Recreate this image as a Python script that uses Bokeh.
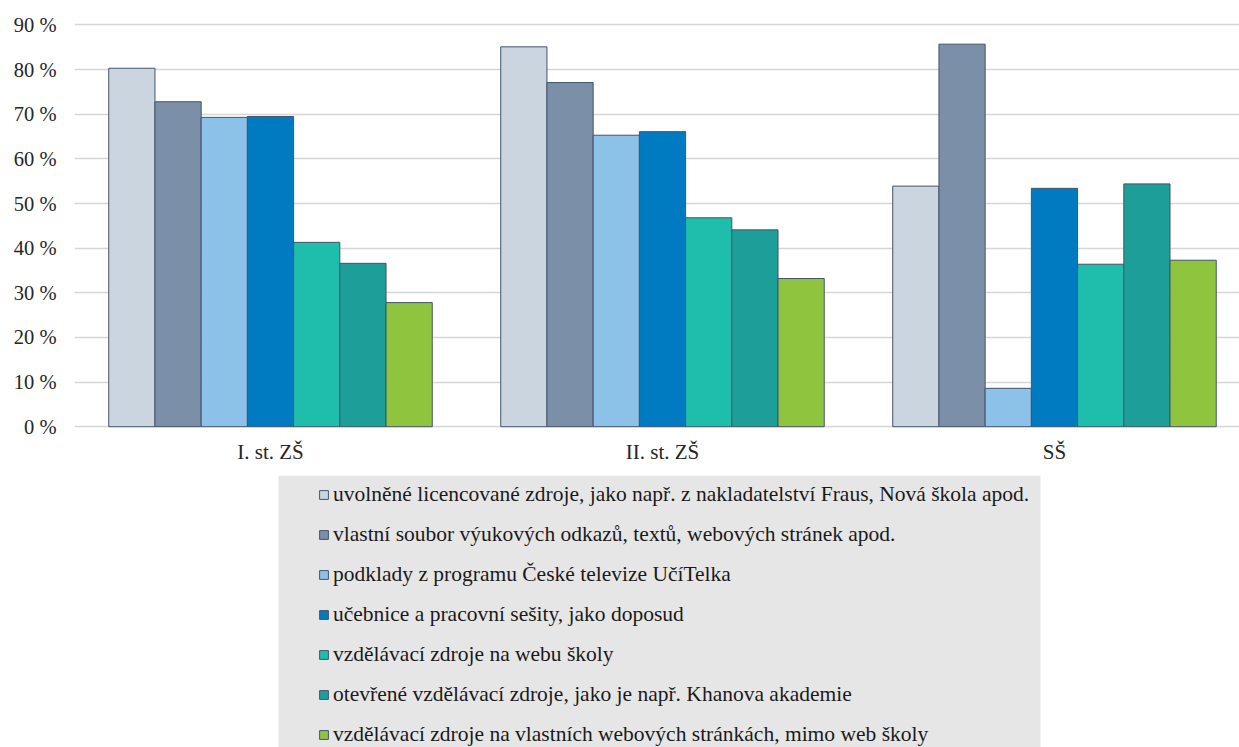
from bokeh.plotting import figure
from bokeh.layouts import column
from bokeh.models import (Range1d, FixedTicker, Legend, LegendItem, ColumnDataSource,
                          BoxAnnotation)
from bokeh.transform import dodge
from bokeh.embed import file_html
from bokeh.resources import INLINE

# ---------------- data ----------------
categories = ["I. st. ZŠ", "II. st. ZŠ", "SŠ"]

series_names = [
    "uvolněné licencované zdroje, jako např. z nakladatelství Fraus, Nová škola apod.",
    "vlastní soubor výukových odkazů, textů, webových stránek apod.",
    "podklady z programu České televize UčíTelka",
    "učebnice a pracovní sešity, jako doposud",
    "vzdělávací zdroje na webu školy",
    "otevřené vzdělávací zdroje, jako je např. Khanova akademie",
    "vzdělávací zdroje na vlastních webových stránkách, mimo web školy",
]

uvolnene_licencovane = [80.3, 85.1, 53.9]
vlastni_soubor = [72.8, 77.1, 85.7]
ucitelka = [69.3, 65.3, 8.6]
ucebnice = [69.5, 66.1, 53.4]
web_skoly = [41.3, 46.8, 36.4]
otevrene_zdroje = [36.6, 44.1, 54.4]
vlastni_weby = [27.8, 33.2, 37.3]

series_values = [uvolnene_licencovane, vlastni_soubor, ucitelka, ucebnice,
                 web_skoly, otevrene_zdroje, vlastni_weby]

y_ticks = [0, 10, 20, 30, 40, 50, 60, 70, 80, 90]
y_tick_labels = ["0 %", "10 %", "20 %", "30 %", "40 %", "50 %", "60 %", "70 %", "80 %", "90 %"]

colors = ["#cbd5df", "#7b8fa8", "#8dc2e8", "#007bc2", "#1fbdab", "#1e9e98", "#8fc43f"]

# ---------------- chart ----------------
FONT = "Liberation Serif"
W = 1239
LEFT = 74
cat_x = [i + 0.5 for i in range(len(categories))]
bar_w = 0.1179

src = ColumnDataSource(dict(x=cat_x, **{f"s{i}": v for i, v in enumerate(series_values)}))

p = figure(width=W, height=475, output_backend="svg", toolbar_location=None,
           x_range=Range1d(0, 2.972), y_range=Range1d(-0.4, 91),
           min_border_left=LEFT, min_border_right=0, min_border_top=20,
           min_border_bottom=47)
p.outline_line_color = None

for i, col in enumerate(colors):
    p.vbar(x=dodge("x", (i - 3) * bar_w), top=f"s{i}", bottom=0, width=bar_w,
           source=src, fill_color=col, line_color="#44546a", line_width=1)

p.xgrid.grid_line_color = None
p.ygrid.grid_line_color = "#d6d6d6"
p.ygrid.grid_line_width = 1.6
p.ygrid.ticker = FixedTicker(ticks=y_ticks)

p.yaxis.ticker = FixedTicker(ticks=y_ticks)
p.yaxis.major_label_overrides = {t: l for t, l in zip(y_ticks, y_tick_labels)}
p.yaxis.axis_line_color = None
p.yaxis.major_tick_line_color = None
p.yaxis.minor_tick_line_color = None
p.yaxis.major_tick_out = 0
p.yaxis.major_tick_in = 0
p.yaxis.major_label_standoff = 18
p.yaxis.major_label_text_font = FONT
p.yaxis.major_label_text_font_size = "20.5px"
p.yaxis.major_label_text_color = "#262626"

p.xaxis.ticker = FixedTicker(ticks=cat_x)
p.xaxis.major_label_overrides = {x: c for x, c in zip(cat_x, categories)}
p.xaxis.axis_line_color = None
p.xaxis.major_tick_line_color = None
p.xaxis.minor_tick_line_color = None
p.xaxis.major_tick_out = 0
p.xaxis.major_tick_in = 0
p.xaxis.major_label_standoff = 11
p.xaxis.major_label_text_font = FONT
p.xaxis.major_label_text_font_size = "21px"
p.xaxis.major_label_text_color = "#262626"

# ---------------- legend panel (same frame as chart, 1 unit = 1 px) ----------------
p2 = figure(width=W, height=272, output_backend="svg", toolbar_location=None,
            x_range=Range1d(0, W - LEFT), y_range=Range1d(0, 272),
            x_axis_type=None, y_axis_type=None,
            min_border_left=LEFT, min_border_right=0, min_border_top=0,
            min_border_bottom=0)
p2.outline_line_color = None
p2.background_fill_color = "white"
p2.border_fill_color = "white"

legend_bg = BoxAnnotation(left=278 - LEFT, right=1040 - LEFT, bottom=0, top=272,
                          fill_color="#e7e6e6", fill_alpha=1.0, line_color=None)
p2.add_layout(legend_bg)

leg_renderers = []
for i, col in enumerate(colors):
    r = p2.vbar(x=dodge("x", (i - 3) * bar_w), top=f"s{i}", bottom=0, width=bar_w,
                source=src, fill_color=col, line_color="#44546a", line_width=1,
                visible=False)
    leg_renderers.append(r)

legend = Legend(items=[LegendItem(label=n, renderers=[r]) for n, r in zip(series_names, leg_renderers)],
                location=(318 - LEFT, 0), orientation="vertical",
                background_fill_alpha=0, border_line_color=None,
                inactive_fill_alpha=0,
                padding=9, margin=0, spacing=15,
                glyph_width=11, glyph_height=11, label_height=20,
                label_standoff=4,
                label_text_font=FONT, label_text_font_size="21.5px",
                label_text_color="#1a1a1a")
p2.add_layout(legend, "center")

layout = column(p, p2, spacing=0)
open("out.html", "w").write(file_html(layout, INLINE))
